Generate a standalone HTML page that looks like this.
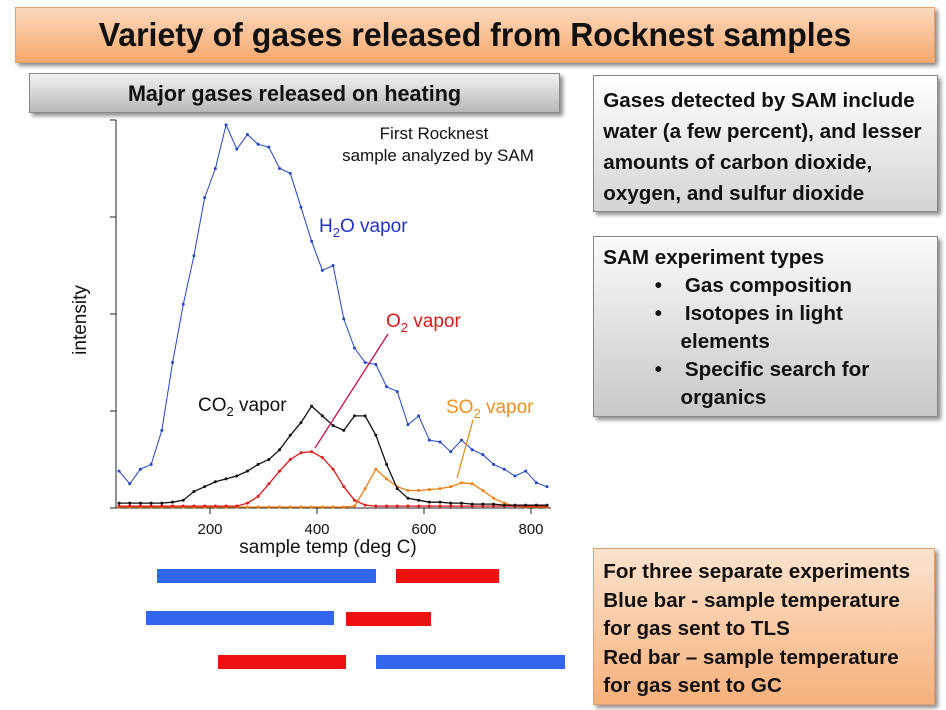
<!DOCTYPE html>
<html><head><meta charset="utf-8"><style>
body{margin:0;width:946px;height:710px;background:#fff;position:relative;overflow:hidden;font-family:"Liberation Sans",sans-serif}
.box{position:absolute;box-sizing:border-box;border:1px solid #888;box-shadow:3px 3px 4px rgba(0,0,0,.45)}
.t{font-weight:bold;color:#111;white-space:nowrap}
.bar{position:absolute;height:14px}
</style></head><body>
<div class="box" style="left:15px;top:7px;width:920px;height:56px;background:linear-gradient(#fbd9be,#f6a86c);border-color:#e0a070">
 <div class="t" style="text-align:center;font-size:33px;line-height:54px;transform:scaleX(.97)">Variety of gases released from Rocknest samples</div></div>
<div class="box" style="left:29px;top:73px;width:531px;height:40px;background:linear-gradient(#f2f2f2,#b8b8b8)">
 <div class="t" style="text-align:center;font-size:22px;line-height:40px;transform:scaleX(.98)">Major gases released on heating</div></div>
<div class="box" style="left:593px;top:75px;width:345px;height:137px;background:linear-gradient(#fff,#d4d4d4)">
 <div class="t" style="font-size:20px;line-height:31px;padding:10px 0 0 9px;transform:scaleX(1.03);transform-origin:left">Gases detected by SAM include<br>water (a few percent), and lesser<br>amounts of carbon dioxide,<br>oxygen, and sulfur dioxide</div></div>
<div class="box" style="left:593px;top:236px;width:345px;height:181px;background:linear-gradient(#fafafa,#c8c8c8)">
 <div class="t" style="font-size:20px;line-height:28px;padding:7px 0 0 9px;transform:scaleX(1.03);transform-origin:left">SAM experiment types<br>
 <span style="margin-left:50px">•&nbsp;&nbsp;&nbsp; Gas composition</span><br>
 <span style="margin-left:50px">•&nbsp;&nbsp;&nbsp; Isotopes in light</span><br>
 <span style="margin-left:75px">elements</span><br>
 <span style="margin-left:50px">•&nbsp;&nbsp;&nbsp; Specific search for</span><br>
 <span style="margin-left:75px">organics</span></div></div>
<div class="box" style="left:593px;top:548px;width:342px;height:157px;background:linear-gradient(#fde3cf,#f6b07a);border-color:#e0a070">
 <div class="t" style="font-size:20px;line-height:28.5px;padding:9px 0 0 9px;transform:scaleX(1.03);transform-origin:left">For three separate experiments<br>Blue bar - sample temperature<br>for gas sent to TLS<br>Red bar – sample temperature<br>for gas sent to GC</div></div>

<div class="bar" style="left:157px;top:569px;width:219px;background:#3366ee"></div>
<div class="bar" style="left:396px;top:569px;width:103px;background:#ee1111"></div>
<div class="bar" style="left:146px;top:611px;width:188px;background:#3366ee"></div>
<div class="bar" style="left:346px;top:612px;width:85px;background:#ee1111"></div>
<div class="bar" style="left:218px;top:655px;width:128px;background:#ee1111"></div>
<div class="bar" style="left:376px;top:655px;width:189px;background:#3366ee"></div>

<svg id="chart" width="946" height="710" style="position:absolute;left:0;top:0" font-family="Liberation Sans, sans-serif"></svg>
<script>
const temps=[30,50,70,90,110,130,150,170,190,210,230,250,270,290,310,330,350,370,390,410,430,450,470,490,510,530,550,570,590,610,630,650,670,690,710,730,750,770,790,810,830];
const h2o=[0.38,0.25,0.4,0.45,0.8,1.5,2.1,2.6,3.2,3.5,3.95,3.7,3.85,3.75,3.72,3.5,3.45,3.1,2.75,2.45,2.5,1.95,1.65,1.5,1.48,1.25,1.2,0.86,0.95,0.7,0.68,0.58,0.7,0.6,0.55,0.45,0.4,0.33,0.38,0.26,0.22];
const co2=[0.05,0.05,0.05,0.05,0.05,0.06,0.08,0.17,0.22,0.27,0.3,0.33,0.38,0.45,0.5,0.6,0.75,0.88,1.05,0.95,0.85,0.8,0.95,0.95,0.75,0.45,0.2,0.1,0.08,0.06,0.06,0.05,0.05,0.04,0.04,0.04,0.03,0.03,0.03,0.03,0.03];
const o2=[0.02,0.02,0.02,0.02,0.02,0.02,0.02,0.02,0.02,0.02,0.02,0.02,0.05,0.12,0.25,0.38,0.5,0.57,0.58,0.52,0.4,0.22,0.08,0.03,0.02,0.02,0.02,0.02,0.02,0.02,0.02,0.02,0.02,0.02,0.02,0.02,0.02,0.02,0.02,0.02,0.02];
const so2=[0.01,0.01,0.01,0.01,0.01,0.01,0.01,0.01,0.01,0.01,0.01,0.01,0.01,0.01,0.01,0.01,0.01,0.01,0.01,0.01,0.01,0.01,0.02,0.2,0.4,0.3,0.22,0.18,0.18,0.19,0.2,0.22,0.26,0.25,0.18,0.1,0.05,0.02,0.01,0.01,0.01];
const xTicks=[200,400,600,800];
const yTicks=[0,1,2,3,4];
const NS="http://www.w3.org/2000/svg";
const svg=document.getElementById('chart');
const X=t=>103+0.535*t;
const Y=v=>508-97*v;
function mk(tag,at,name){const e=document.createElementNS(NS,tag);for(const k in at)e.setAttribute(k,at[k]);


svg.appendChild(e);return e;}
mk('line',{x1:116,y1:120,x2:116,y2:508,stroke:'#222','stroke-width':1},'y-axis');
mk('line',{x1:116,y1:508,x2:551,y2:508,stroke:'#222','stroke-width':1},'x-axis');
yTicks.forEach(v=>{mk('line',{x1:110,y1:Y(v),x2:116,y2:Y(v),stroke:'#222'},'y-tick');});
xTicks.forEach(t=>{mk('line',{x1:X(t),y1:508,x2:X(t),y2:514,stroke:'#222'},'x-tick');
 const tx=mk('text',{x:X(t),y:534,'font-size':15,'text-anchor':'middle',fill:'#111'},'x-tick-label');tx.textContent=t;});
const xt=mk('text',{x:328,y:553,'font-size':19,'text-anchor':'middle',fill:'#111'},'x-axis-title');xt.textContent='sample temp (deg C)';
const yt=mk('text',{x:0,y:0,'font-size':19,'text-anchor':'middle',fill:'#111',transform:'translate(86,320) rotate(-90)'},'y-axis-title');yt.textContent='intensity';
function series(vals,color,name,w){
 const d=temps.map((t,i)=>(i?'L':'M')+X(t).toFixed(1)+' '+Y(vals[i]).toFixed(1)).join(' ');
 mk('path',{d:d,fill:'none',stroke:color,'stroke-width':w},name+'-line');
 temps.forEach((t,i)=>{mk('circle',{cx:X(t),cy:Y(vals[i]),r:1.5,fill:color},name+'-point');});
}
series(so2,'#f08010','so2',1.3);
series(o2,'#e01818','o2',1.3);
series(co2,'#111','co2',1.3);
series(h2o,'#2244cc','h2o',1);
mk('line',{x1:315,y1:448,x2:388,y2:334,stroke:'#d0104a','stroke-width':1.3},'o2-pointer');
mk('line',{x1:457,y1:478,x2:473,y2:420,stroke:'#e09010','stroke-width':1.3},'so2-pointer');
function lab(x,y,main,sub,rest,color,name){const t=mk('text',{x:x,y:y,'font-size':19,fill:color},name);
 t.innerHTML=main+'<tspan font-size="13" dy="5">'+sub+'</tspan><tspan dy="-5">'+rest+'</tspan>';}
lab(319,232,'H','2','O vapor','#2233cc','h2o-label');
lab(386,327,'O','2',' vapor','#e01818','o2-label');
lab(198,411,'CO','2',' vapor','#111','co2-label');
lab(446,413,'SO','2',' vapor','#f09020','so2-label');
const n1=mk('text',{x:434,y:139,'font-size':17,'text-anchor':'middle',fill:'#111'},'chart-note-line1');n1.textContent='First Rocknest';
const n2=mk('text',{x:438,y:161,'font-size':17,'text-anchor':'middle',fill:'#111'},'chart-note-line2');n2.textContent='sample analyzed by SAM';
</script>
</body></html>
